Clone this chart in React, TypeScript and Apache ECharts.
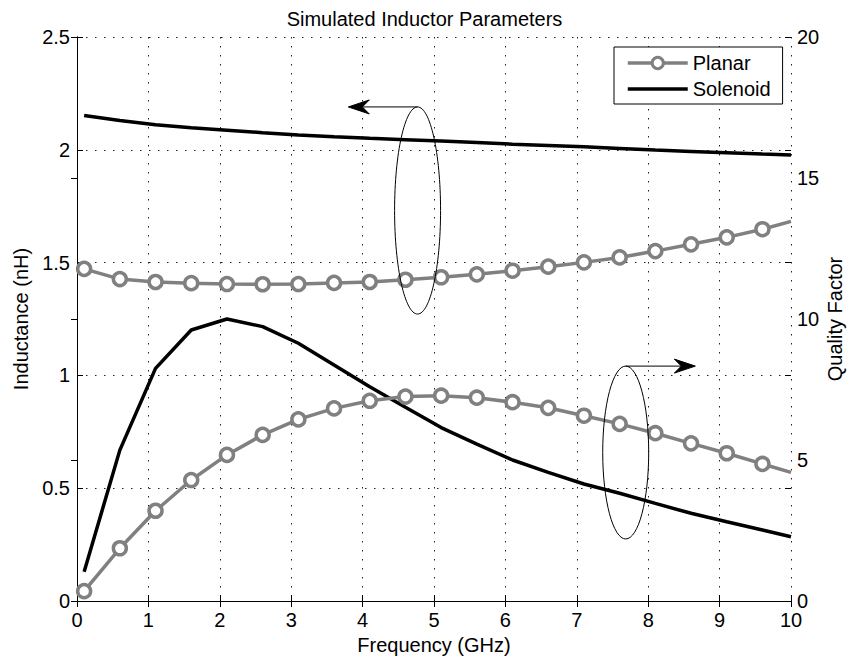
import React, { useEffect, useRef } from "react";
import * as echarts from "echarts";

// Frequency sweep points (GHz)
const freqGHz = [0.1, 0.6, 1.1, 1.6, 2.1, 2.6, 3.1, 3.6, 4.1, 4.6, 5.1, 5.6, 6.1, 6.6, 7.1, 7.6, 8.1, 8.6, 9.1, 9.6, 10];

// Inductance (nH)
const planarInductance = [1.472, 1.427, 1.414, 1.409, 1.405, 1.404, 1.405, 1.41, 1.414, 1.424, 1.435, 1.448, 1.464, 1.482, 1.501, 1.523, 1.551, 1.581, 1.612, 1.648, 1.683];
const solenoidInductance = [2.152, 2.13, 2.111, 2.098, 2.087, 2.076, 2.066, 2.058, 2.051, 2.045, 2.039, 2.032, 2.025, 2.019, 2.013, 2.006, 1.999, 1.993, 1.987, 1.981, 1.977];

// Quality factor
const planarQ = [0.35, 1.87, 3.2, 4.29, 5.18, 5.89, 6.44, 6.83, 7.1, 7.25, 7.28, 7.21, 7.05, 6.85, 6.57, 6.28, 5.95, 5.59, 5.24, 4.86, 4.56];
const solenoidQ = [1.04, 5.35, 8.25, 9.61, 10.0, 9.73, 9.14, 8.37, 7.6, 6.87, 6.15, 5.56, 5.0, 4.56, 4.15, 3.82, 3.46, 3.11, 2.81, 2.52, 2.28];

// Axis ranges
const freqRange = [0, 10, 1];
const inductanceRange = [0, 2.5, 0.5];
const qRange = [0, 20, 5];

const legendNames = ["Planar", "Solenoid"];

// Callout ellipses: centre GHz, top, bottom, half-width GHz, arrow tip GHz, axis index
const callouts = [
  { cx: 4.77, top: 2.19, bottom: 1.272, halfWidth: 0.322, arrowTo: 3.8, yAxis: 0 },
  { cx: 7.685, top: 8.33, bottom: 2.2, halfWidth: 0.322, arrowTo: 8.66, yAxis: 1 },
];

const FONT = "'Liberation Sans', Arial, Helvetica, sans-serif";
const GRAY = "#808080";

function withMarkers(values: number[]) {
  return values.map((v, i) => {
    const x = freqGHz[i];
    if (x >= 10) return { value: [x, v], symbol: "none" };
    return { value: [x, v] };
  });
}

function plain(values: number[]) {
  return values.map((v, i) => [freqGHz[i], v]);
}

export default function App() {
  const ref = useRef<HTMLDivElement>(null);

  useEffect(() => {
    if (!ref.current) return;
    const chart = echarts.init(ref.current, null, { renderer: "svg" });

    const tickStyle = { inside: true, length: 6, lineStyle: { color: "#000", width: 1 } };
    const axisLine = { show: true, lineStyle: { color: "#000", width: 1 } };
    const labelStyle = { color: "#000", fontSize: 20, fontFamily: FONT };
    const nameStyle = { color: "#000", fontSize: 20, fontFamily: FONT };
    const dotted = { show: true, lineStyle: { color: "#222", width: 1, type: [1.5, 7.5] as any } };

    const planarLine = {
      type: "line",
      name: legendNames[0],
      symbol: "circle",
      symbolSize: 13,
      itemStyle: { color: "#fff", borderColor: GRAY, borderWidth: 3.5 },
      lineStyle: { color: GRAY, width: 3.5 },
      z: 3,
    };
    const solenoidLine = {
      type: "line",
      name: legendNames[1],
      symbol: "none",
      showSymbol: false,
      itemStyle: { color: "#000" },
      lineStyle: { color: "#000", width: 3.5 },
      z: 2,
    };

    chart.setOption({
      animation: false,
      backgroundColor: "#fff",
      title: {
        text: "Simulated Inductor Parameters",
        left: "center",
        top: 4,
        textStyle: { color: "#000", fontSize: 20, fontWeight: "normal", fontFamily: FONT },
      },
      grid: { left: 77, right: 58, top: 37, bottom: 56, outerBoundsMode: "none", containLabel: false },
      legend: {
        data: [
          {
            name: legendNames[0],
            itemStyle: { color: "#fff", borderColor: GRAY, borderWidth: 3 },
            lineStyle: { color: GRAY, width: 3.5 },
          },
          {
            name: legendNames[1],
            itemStyle: { color: "#000", opacity: 0, borderWidth: 0 },
            lineStyle: { color: "#000", width: 3.5, opacity: 1 },
          },
        ],
        orient: "vertical",
        left: 614,
        top: 47,
        itemWidth: 60,
        itemHeight: 14,
        itemGap: 6,
        padding: [6, 12, 5, 12],
        backgroundColor: "#fff",
        borderColor: "#000",
        borderWidth: 1,
        borderRadius: 0,
        textStyle: { color: "#000", fontSize: 20, fontFamily: FONT, lineHeight: 20 },
      },
      xAxis: [
        {
          type: "value",
          position: "bottom",
          min: freqRange[0],
          max: freqRange[1],
          interval: freqRange[2],
          name: "Frequency (GHz)",
          nameLocation: "middle",
          nameGap: 29,
          nameTextStyle: nameStyle,
          axisLine,
          axisTick: tickStyle,
          axisLabel: { ...labelStyle, margin: 9 },
          splitLine: dotted,
        },
        {
          type: "value",
          position: "top",
          min: freqRange[0],
          max: freqRange[1],
          interval: freqRange[2],
          axisLine,
          axisTick: tickStyle,
          axisLabel: { show: false },
          splitLine: { show: false },
        },
      ],
      yAxis: [
        {
          type: "value",
          position: "left",
          min: inductanceRange[0],
          max: inductanceRange[1],
          interval: inductanceRange[2],
          name: "Inductance (nH)",
          nameLocation: "middle",
          nameGap: 46,
          nameRotate: 90,
          nameTextStyle: nameStyle,
          axisLine,
          axisTick: tickStyle,
          axisLabel: { ...labelStyle, margin: 7 },
          splitLine: dotted,
        },
        {
          type: "value",
          position: "right",
          min: qRange[0],
          max: qRange[1],
          interval: qRange[2],
          name: "Quality Factor",
          nameLocation: "middle",
          nameGap: 34,
          nameMoveOverlap: false,
          nameRotate: 90,
          nameTextStyle: nameStyle,
          axisLine,
          axisTick: tickStyle,
          axisLabel: { ...labelStyle, margin: 6 },
          splitLine: { show: false },
        },
        {
          // mirrored inductance ticks along the right frame
          type: "value",
          position: "right",
          offset: 0,
          min: inductanceRange[0],
          max: inductanceRange[1],
          interval: inductanceRange[2],
          axisLine: { show: false },
          axisTick: tickStyle,
          axisLabel: { show: false },
          splitLine: { show: false },
        },
      ],
      series: [
        { ...planarLine, yAxisIndex: 0, data: withMarkers(planarInductance) },
        { ...solenoidLine, yAxisIndex: 0, data: plain(solenoidInductance) },
        { ...planarLine, yAxisIndex: 1, data: withMarkers(planarQ) },
        { ...solenoidLine, yAxisIndex: 1, data: plain(solenoidQ) },
      ],
    });

    // Callout ellipses with arrows pointing to the axis each pair belongs to
    const graphics: any[] = [];
    callouts.forEach((c) => {
      const finder = { xAxisIndex: 0, yAxisIndex: c.yAxis };
      const top = chart.convertToPixel(finder, [c.cx, c.top]) as number[];
      const bottom = chart.convertToPixel(finder, [c.cx, c.bottom]) as number[];
      const side = chart.convertToPixel(finder, [c.cx + c.halfWidth, c.top]) as number[];
      const tip = chart.convertToPixel(finder, [c.arrowTo, c.top]) as number[];
      const rx = side[0] - top[0];
      const cy = (top[1] + bottom[1]) / 2;
      const ry = (bottom[1] - top[1]) / 2;
      graphics.push({
        type: "ellipse",
        z: 100,
        shape: { cx: top[0], cy, rx, ry },
        style: { fill: "none", stroke: "#000", lineWidth: 1 },
      });
      const dir = tip[0] < top[0] ? -1 : 1;
      const len = 21;
      const half = 7;
      const notch = 14;
      graphics.push({
        type: "line",
        z: 100,
        shape: { x1: top[0], y1: top[1], x2: tip[0] - dir * notch, y2: top[1] },
        style: { stroke: "#000", lineWidth: 1 },
      });
      graphics.push({
        type: "polygon",
        z: 100,
        shape: {
          points: [
            [tip[0], tip[1]],
            [tip[0] - dir * len, tip[1] - half],
            [tip[0] - dir * notch, tip[1]],
            [tip[0] - dir * len, tip[1] + half],
          ],
        },
        style: { fill: "#000", stroke: "#000", lineWidth: 1 },
      });
    });
    chart.setOption({ graphic: graphics });

    return () => chart.dispose();
  }, []);

  return (
    <div
      ref={ref}
      style={{ position: "fixed", left: 0, top: 0, width: 849, height: 657, background: "#fff" }}
    />
  );
}
